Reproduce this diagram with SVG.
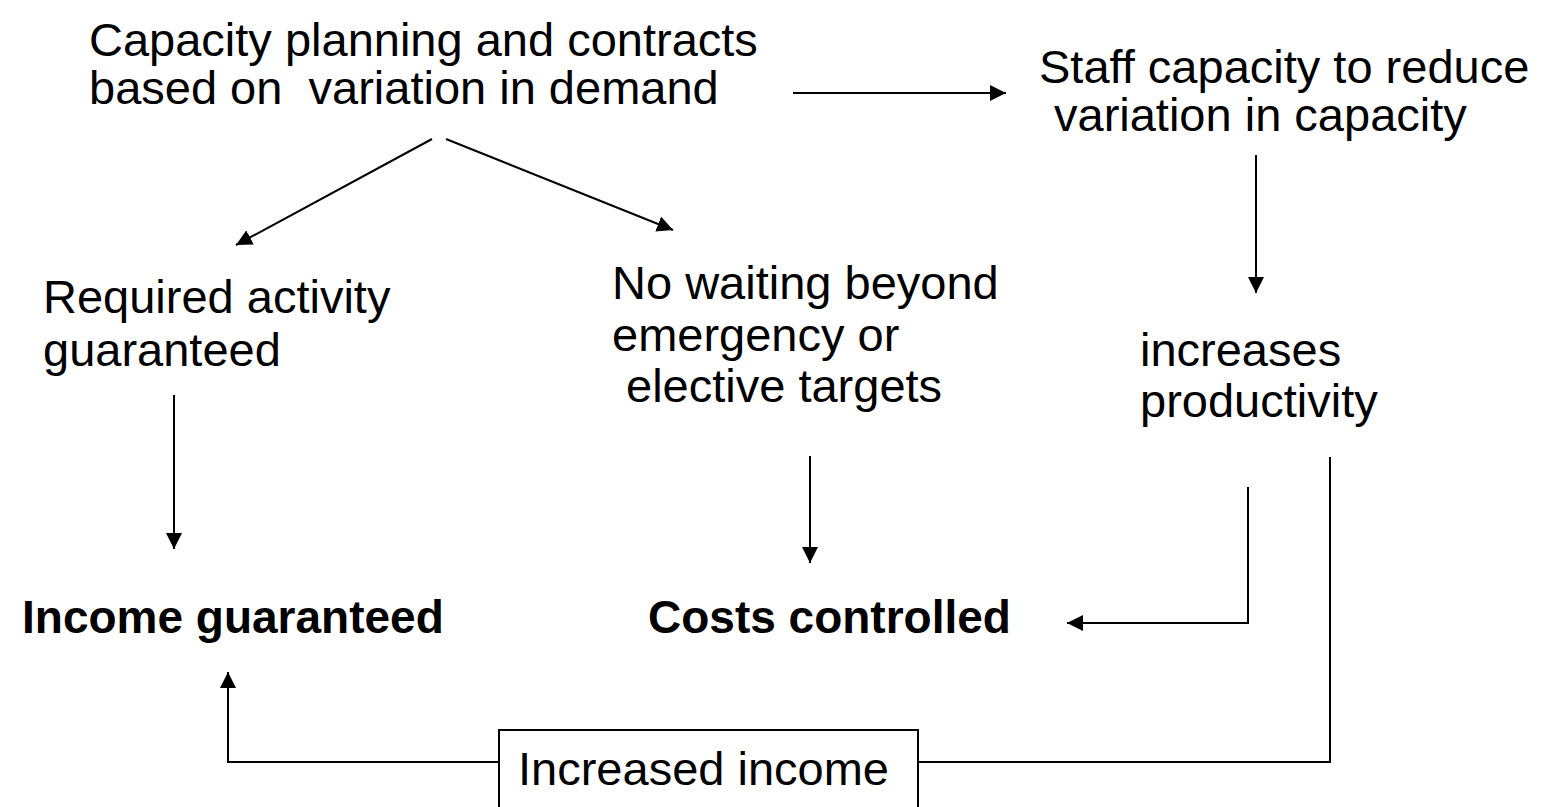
<svg xmlns="http://www.w3.org/2000/svg" width="1549" height="807" viewBox="0 0 1549 807">
  <style>
    .t { font-family: "Liberation Sans", Arial, sans-serif; font-size: 47px; fill: #000; }
    .b { font-family: "Liberation Sans", Arial, sans-serif; font-size: 46px; font-weight: bold; fill: #000; }
    .ln { fill: none; stroke: #000; stroke-width: 2; }
  </style>
  <defs>
    <marker id="arr" viewBox="0 0 16 16" refX="16" refY="8" markerWidth="16" markerHeight="16" markerUnits="userSpaceOnUse" orient="auto">
      <path d="M0,0 L16,8 L0,16 Z" fill="#000"/>
    </marker>
  </defs>
  <rect width="1549" height="807" fill="#fff"/>

  <g id="capacity-planning">
    <text class="t" x="89" y="56">Capacity planning and contracts</text>
    <text class="t" x="89" y="104" xml:space="preserve">based on  variation in demand</text>
  </g>
  <g id="staff-capacity">
    <text class="t" x="1039" y="83">Staff capacity to reduce</text>
    <text class="t" x="1054" y="131">variation in capacity</text>
  </g>
  <g id="required-activity">
    <text class="t" x="43" y="313">Required activity</text>
    <text class="t" x="43" y="366">guaranteed</text>
  </g>
  <g id="no-waiting">
    <text class="t" x="612" y="299">No waiting beyond</text>
    <text class="t" x="612" y="351">emergency or</text>
    <text class="t" x="626" y="402">elective targets</text>
  </g>
  <g id="productivity">
    <text class="t" x="1140" y="366">increases</text>
    <text class="t" x="1140" y="417">productivity</text>
  </g>
  <g id="income-guaranteed">
    <text class="b" x="22" y="633">Income guaranteed</text>
  </g>
  <g id="costs-controlled">
    <text class="b" x="648" y="633">Costs controlled</text>
  </g>
  <g id="increased-income">
    <rect class="ln" x="499" y="730" width="419" height="90"/>
    <text class="t" x="518" y="785" font-size="48">Increased income</text>
  </g>

  <g id="connectors">
    <line class="ln" x1="793" y1="93" x2="1006" y2="93" marker-end="url(#arr)"/>
    <line class="ln" x1="432" y1="139" x2="236" y2="245" marker-end="url(#arr)"/>
    <line class="ln" x1="446" y1="139" x2="673" y2="230" marker-end="url(#arr)"/>
    <line class="ln" x1="1256" y1="155" x2="1256" y2="293" marker-end="url(#arr)"/>
    <line class="ln" x1="174" y1="395" x2="174" y2="549" marker-end="url(#arr)"/>
    <line class="ln" x1="810" y1="456" x2="810" y2="563" marker-end="url(#arr)"/>
    <polyline class="ln" points="1248,487 1248,623 1067,623" marker-end="url(#arr)"/>
    <polyline class="ln" points="1330,457 1330,762 918,762"/>
    <polyline class="ln" points="499,762 228,762 228,672" marker-end="url(#arr)"/>
  </g>
</svg>
